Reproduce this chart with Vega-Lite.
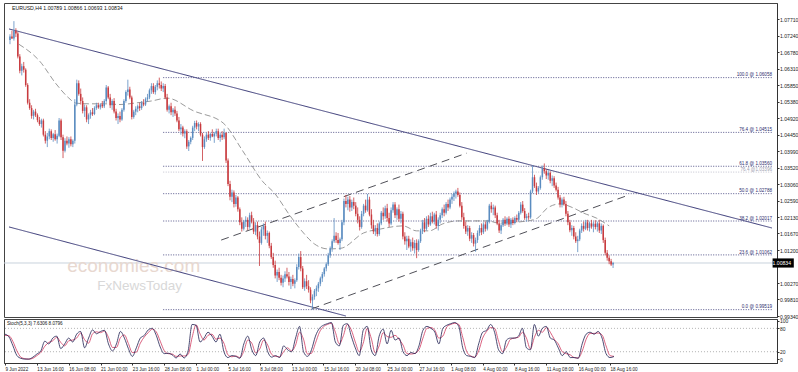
{
"$schema":"https://vega.github.io/schema/vega-lite/v6.json",
"background":"white",
"padding":{"left":2,"top":2,"right":0,"bottom":0},
"spacing":2,
"bounds":"flush",
"config":{"view":{"stroke":"#444","strokeWidth":1},"font":"Liberation Sans"},
"resolve":{"scale":{"x":"independent","y":"independent"}},
"datasets":{
"bars":[
{"i":0,"o":1.0712,"h":1.0728,"l":1.0700,"c":1.0722},
{"i":1,"o":1.0722,"h":1.0738,"l":1.0715,"c":1.0716},
{"i":2,"o":1.0716,"h":1.0765,"l":1.0710,"c":1.0738},
{"i":3,"o":1.0738,"h":1.0745,"l":1.0720,"c":1.0730},
{"i":4,"o":1.0730,"h":1.0735,"l":1.0660,"c":1.0665},
{"i":5,"o":1.0665,"h":1.0672,"l":1.0618,"c":1.0625},
{"i":6,"o":1.0625,"h":1.0645,"l":1.0612,"c":1.0638},
{"i":7,"o":1.0638,"h":1.0650,"l":1.0620,"c":1.0628},
{"i":8,"o":1.0628,"h":1.0632,"l":1.0580,"c":1.0585},
{"i":9,"o":1.0585,"h":1.0590,"l":1.0530,"c":1.0535},
{"i":10,"o":1.0535,"h":1.0545,"l":1.0515,"c":1.0520},
{"i":11,"o":1.0520,"h":1.0528,"l":1.0490,"c":1.0498},
{"i":12,"o":1.0498,"h":1.0515,"l":1.0488,"c":1.0510},
{"i":13,"o":1.0510,"h":1.0518,"l":1.0495,"c":1.0500},
{"i":14,"o":1.0500,"h":1.0505,"l":1.0480,"c":1.0486},
{"i":15,"o":1.0486,"h":1.0495,"l":1.0470,"c":1.0475},
{"i":16,"o":1.0475,"h":1.0490,"l":1.0465,"c":1.0485},
{"i":17,"o":1.0485,"h":1.0490,"l":1.0440,"c":1.0445},
{"i":18,"o":1.0445,"h":1.0455,"l":1.0420,"c":1.0428},
{"i":19,"o":1.0428,"h":1.0450,"l":1.0410,"c":1.0440},
{"i":20,"o":1.0440,"h":1.0462,"l":1.0432,"c":1.0455},
{"i":21,"o":1.0455,"h":1.0460,"l":1.0430,"c":1.0436},
{"i":22,"o":1.0436,"h":1.0450,"l":1.0425,"c":1.0446},
{"i":23,"o":1.0446,"h":1.0458,"l":1.0428,"c":1.0432},
{"i":24,"o":1.0432,"h":1.0448,"l":1.0420,"c":1.0442},
{"i":25,"o":1.0442,"h":1.0492,"l":1.0438,"c":1.0485},
{"i":26,"o":1.0485,"h":1.0490,"l":1.0430,"c":1.0438},
{"i":27,"o":1.0438,"h":1.0445,"l":1.0379,"c":1.0400},
{"i":28,"o":1.0400,"h":1.0435,"l":1.0395,"c":1.0428},
{"i":29,"o":1.0428,"h":1.0440,"l":1.0415,"c":1.0420},
{"i":30,"o":1.0420,"h":1.0438,"l":1.0408,"c":1.0432},
{"i":31,"o":1.0432,"h":1.0440,"l":1.0412,"c":1.0418},
{"i":32,"o":1.0418,"h":1.0432,"l":1.0410,"c":1.0428},
{"i":33,"o":1.0428,"h":1.0545,"l":1.0420,"c":1.0530},
{"i":34,"o":1.0530,"h":1.0600,"l":1.0525,"c":1.0590},
{"i":35,"o":1.0590,"h":1.0598,"l":1.0555,"c":1.0560},
{"i":36,"o":1.0560,"h":1.0575,"l":1.0530,"c":1.0540},
{"i":37,"o":1.0540,"h":1.0550,"l":1.0505,"c":1.0512},
{"i":38,"o":1.0512,"h":1.0530,"l":1.0495,"c":1.0522},
{"i":39,"o":1.0522,"h":1.0528,"l":1.0480,"c":1.0488},
{"i":40,"o":1.0488,"h":1.0505,"l":1.0475,"c":1.0500},
{"i":41,"o":1.0500,"h":1.0515,"l":1.0490,"c":1.0508},
{"i":42,"o":1.0508,"h":1.0520,"l":1.0498,"c":1.0503},
{"i":43,"o":1.0503,"h":1.0525,"l":1.0500,"c":1.0520},
{"i":44,"o":1.0520,"h":1.0535,"l":1.0515,"c":1.0528},
{"i":45,"o":1.0528,"h":1.0535,"l":1.0518,"c":1.0522},
{"i":46,"o":1.0522,"h":1.0534,"l":1.0516,"c":1.0530},
{"i":47,"o":1.0530,"h":1.0540,"l":1.0520,"c":1.0525},
{"i":48,"o":1.0525,"h":1.0545,"l":1.0520,"c":1.0540},
{"i":49,"o":1.0540,"h":1.0585,"l":1.0535,"c":1.0578},
{"i":50,"o":1.0578,"h":1.0582,"l":1.0545,"c":1.0550},
{"i":51,"o":1.0550,"h":1.0560,"l":1.0520,"c":1.0528},
{"i":52,"o":1.0528,"h":1.0545,"l":1.0515,"c":1.0540},
{"i":53,"o":1.0540,"h":1.0548,"l":1.0505,"c":1.0510},
{"i":54,"o":1.0510,"h":1.0518,"l":1.0485,"c":1.0492},
{"i":55,"o":1.0492,"h":1.0505,"l":1.0475,"c":1.0498},
{"i":56,"o":1.0498,"h":1.0510,"l":1.0480,"c":1.0488},
{"i":57,"o":1.0488,"h":1.0520,"l":1.0484,"c":1.0515},
{"i":58,"o":1.0515,"h":1.0545,"l":1.0510,"c":1.0540},
{"i":59,"o":1.0540,"h":1.0570,"l":1.0535,"c":1.0565},
{"i":60,"o":1.0565,"h":1.0600,"l":1.0555,"c":1.0572},
{"i":61,"o":1.0572,"h":1.0580,"l":1.0545,"c":1.0550},
{"i":62,"o":1.0550,"h":1.0555,"l":1.0488,"c":1.0495},
{"i":63,"o":1.0495,"h":1.0515,"l":1.0490,"c":1.0510},
{"i":64,"o":1.0510,"h":1.0525,"l":1.0500,"c":1.0518},
{"i":65,"o":1.0518,"h":1.0530,"l":1.0508,"c":1.0525},
{"i":66,"o":1.0525,"h":1.0535,"l":1.0512,"c":1.0520},
{"i":67,"o":1.0520,"h":1.0540,"l":1.0515,"c":1.0535},
{"i":68,"o":1.0535,"h":1.0545,"l":1.0525,"c":1.0530},
{"i":69,"o":1.0530,"h":1.0550,"l":1.0526,"c":1.0545},
{"i":70,"o":1.0545,"h":1.0560,"l":1.0538,"c":1.0550},
{"i":71,"o":1.0550,"h":1.0575,"l":1.0545,"c":1.0570},
{"i":72,"o":1.0570,"h":1.0590,"l":1.0560,"c":1.0582},
{"i":73,"o":1.0582,"h":1.0590,"l":1.0560,"c":1.0565},
{"i":74,"o":1.0565,"h":1.0585,"l":1.0558,"c":1.0580},
{"i":75,"o":1.0580,"h":1.0598,"l":1.0570,"c":1.0590},
{"i":76,"o":1.0590,"h":1.06058,"l":1.0575,"c":1.0585},
{"i":77,"o":1.0585,"h":1.0595,"l":1.0568,"c":1.0575},
{"i":78,"o":1.0575,"h":1.0590,"l":1.0565,"c":1.0582},
{"i":79,"o":1.0582,"h":1.0588,"l":1.0545,"c":1.0550},
{"i":80,"o":1.0550,"h":1.0560,"l":1.0510,"c":1.0515},
{"i":81,"o":1.0515,"h":1.0530,"l":1.0505,"c":1.0525},
{"i":82,"o":1.0525,"h":1.0535,"l":1.0500,"c":1.0508},
{"i":83,"o":1.0508,"h":1.0520,"l":1.0495,"c":1.0515},
{"i":84,"o":1.0515,"h":1.0525,"l":1.0498,"c":1.0505},
{"i":85,"o":1.0505,"h":1.0512,"l":1.0480,"c":1.0485},
{"i":86,"o":1.0485,"h":1.0495,"l":1.0455,"c":1.0460},
{"i":87,"o":1.0460,"h":1.0475,"l":1.0445,"c":1.0465},
{"i":88,"o":1.0465,"h":1.0470,"l":1.0440,"c":1.0448},
{"i":89,"o":1.0448,"h":1.0460,"l":1.0435,"c":1.0455},
{"i":90,"o":1.0455,"h":1.0460,"l":1.0405,"c":1.0412},
{"i":91,"o":1.0412,"h":1.0430,"l":1.0399,"c":1.0425},
{"i":92,"o":1.0425,"h":1.0440,"l":1.0418,"c":1.0436},
{"i":93,"o":1.0436,"h":1.0470,"l":1.0430,"c":1.0465},
{"i":94,"o":1.0465,"h":1.0484,"l":1.0455,"c":1.0478},
{"i":95,"o":1.0478,"h":1.0485,"l":1.0460,"c":1.0468},
{"i":96,"o":1.0468,"h":1.0480,"l":1.0455,"c":1.0475},
{"i":97,"o":1.0475,"h":1.0480,"l":1.0440,"c":1.0445},
{"i":98,"o":1.0445,"h":1.0450,"l":1.0371,"c":1.0410},
{"i":99,"o":1.0410,"h":1.0440,"l":1.0405,"c":1.0432},
{"i":100,"o":1.0432,"h":1.0450,"l":1.0425,"c":1.0445},
{"i":101,"o":1.0445,"h":1.0455,"l":1.0430,"c":1.0436},
{"i":102,"o":1.0436,"h":1.0450,"l":1.0428,"c":1.0447},
{"i":103,"o":1.0447,"h":1.0460,"l":1.0438,"c":1.0440},
{"i":104,"o":1.0440,"h":1.0452,"l":1.0422,"c":1.0448},
{"i":105,"o":1.0448,"h":1.0462,"l":1.0440,"c":1.0455},
{"i":106,"o":1.0455,"h":1.0462,"l":1.0430,"c":1.0436},
{"i":107,"o":1.0436,"h":1.0450,"l":1.0425,"c":1.0445},
{"i":108,"o":1.0445,"h":1.0455,"l":1.0430,"c":1.0438},
{"i":109,"o":1.0438,"h":1.0462,"l":1.0432,"c":1.0450},
{"i":110,"o":1.0450,"h":1.0452,"l":1.0365,"c":1.0372},
{"i":111,"o":1.0372,"h":1.0378,"l":1.0300,"c":1.0306},
{"i":112,"o":1.0306,"h":1.0315,"l":1.0260,"c":1.0270},
{"i":113,"o":1.0270,"h":1.0290,"l":1.0255,"c":1.0282},
{"i":114,"o":1.0282,"h":1.0288,"l":1.0240,"c":1.0250},
{"i":115,"o":1.0250,"h":1.0275,"l":1.0242,"c":1.0268},
{"i":116,"o":1.0268,"h":1.0272,"l":1.0228,"c":1.0235},
{"i":117,"o":1.0235,"h":1.0240,"l":1.0190,"c":1.0198},
{"i":118,"o":1.0198,"h":1.0212,"l":1.0172,"c":1.0180},
{"i":119,"o":1.0180,"h":1.0205,"l":1.0175,"c":1.0200},
{"i":120,"o":1.0200,"h":1.0215,"l":1.0185,"c":1.0205},
{"i":121,"o":1.0205,"h":1.0212,"l":1.0176,"c":1.0185},
{"i":122,"o":1.0185,"h":1.0225,"l":1.0180,"c":1.0218},
{"i":123,"o":1.0218,"h":1.0228,"l":1.0195,"c":1.0200},
{"i":124,"o":1.0200,"h":1.0210,"l":1.0165,"c":1.0172},
{"i":125,"o":1.0172,"h":1.0198,"l":1.0162,"c":1.0190},
{"i":126,"o":1.0190,"h":1.0200,"l":1.0150,"c":1.0158},
{"i":127,"o":1.0158,"h":1.0172,"l":1.0075,"c":1.0140},
{"i":128,"o":1.0140,"h":1.0185,"l":1.0135,"c":1.0178},
{"i":129,"o":1.0178,"h":1.0195,"l":1.0160,"c":1.0188},
{"i":130,"o":1.0188,"h":1.0200,"l":1.0150,"c":1.0160},
{"i":131,"o":1.0160,"h":1.0175,"l":1.0140,"c":1.0168},
{"i":132,"o":1.0168,"h":1.0172,"l":1.0125,"c":1.0132},
{"i":133,"o":1.0132,"h":1.0140,"l":1.0095,"c":1.0100},
{"i":134,"o":1.0100,"h":1.0112,"l":1.0070,"c":1.0078},
{"i":135,"o":1.0078,"h":1.0090,"l":1.0040,"c":1.0048},
{"i":136,"o":1.0048,"h":1.0065,"l":1.0030,"c":1.0058},
{"i":137,"o":1.0058,"h":1.0070,"l":1.0035,"c":1.0042},
{"i":138,"o":1.0042,"h":1.0050,"l":1.0020,"c":1.0028},
{"i":139,"o":1.0028,"h":1.0048,"l":1.0015,"c":1.0040},
{"i":140,"o":1.0040,"h":1.0060,"l":1.0030,"c":1.0052},
{"i":141,"o":1.0052,"h":1.0070,"l":1.0040,"c":1.0045},
{"i":142,"o":1.0045,"h":1.0058,"l":1.0020,"c":1.0030},
{"i":143,"o":1.0030,"h":1.0045,"l":1.0010,"c":1.0038},
{"i":144,"o":1.0038,"h":1.0050,"l":1.0018,"c":1.0025},
{"i":145,"o":1.0025,"h":1.0040,"l":1.0012,"c":1.0035},
{"i":146,"o":1.0035,"h":1.0080,"l":1.0030,"c":1.0072},
{"i":147,"o":1.0072,"h":1.0110,"l":1.0065,"c":1.0100},
{"i":148,"o":1.0100,"h":1.0117,"l":1.0060,"c":1.0068},
{"i":149,"o":1.0068,"h":1.0075,"l":1.0010,"c":1.0015},
{"i":150,"o":1.0015,"h":1.0040,"l":1.0005,"c":1.0032},
{"i":151,"o":1.0032,"h":1.0050,"l":1.0010,"c":1.0018},
{"i":152,"o":1.0018,"h":1.0035,"l":1.0000,"c":1.0008},
{"i":153,"o":1.0008,"h":1.0015,"l":0.9970,"c":0.9978},
{"i":154,"o":0.9978,"h":0.9995,"l":0.99519,"c":0.9988},
{"i":155,"o":0.9988,"h":1.0010,"l":0.9980,"c":1.0005},
{"i":156,"o":1.0005,"h":1.0020,"l":0.9990,"c":1.0012},
{"i":157,"o":1.0012,"h":1.0030,"l":1.0002,"c":1.0025},
{"i":158,"o":1.0025,"h":1.0045,"l":1.0018,"c":1.0040},
{"i":159,"o":1.0040,"h":1.0058,"l":1.0030,"c":1.0052},
{"i":160,"o":1.0052,"h":1.0072,"l":1.0045,"c":1.0068},
{"i":161,"o":1.0068,"h":1.0085,"l":1.0060,"c":1.0080},
{"i":162,"o":1.0080,"h":1.0112,"l":1.0075,"c":1.0105},
{"i":163,"o":1.0105,"h":1.0130,"l":1.0098,"c":1.0125},
{"i":164,"o":1.0125,"h":1.0150,"l":1.0115,"c":1.0145},
{"i":165,"o":1.0145,"h":1.0210,"l":1.0140,"c":1.0160},
{"i":166,"o":1.0160,"h":1.0170,"l":1.0140,"c":1.0148},
{"i":167,"o":1.0148,"h":1.0168,"l":1.0135,"c":1.0140},
{"i":168,"o":1.0140,"h":1.0155,"l":1.0120,"c":1.0150},
{"i":169,"o":1.0150,"h":1.0205,"l":1.0145,"c":1.0198},
{"i":170,"o":1.0198,"h":1.0265,"l":1.0190,"c":1.0258},
{"i":171,"o":1.0258,"h":1.0275,"l":1.0240,"c":1.0250},
{"i":172,"o":1.0250,"h":1.0270,"l":1.0232,"c":1.0262},
{"i":173,"o":1.0262,"h":1.0272,"l":1.0228,"c":1.0240},
{"i":174,"o":1.0240,"h":1.0262,"l":1.0230,"c":1.0255},
{"i":175,"o":1.0255,"h":1.0268,"l":1.0235,"c":1.0245},
{"i":176,"o":1.0245,"h":1.0255,"l":1.0215,"c":1.0222},
{"i":177,"o":1.0222,"h":1.0240,"l":1.0195,"c":1.0205},
{"i":178,"o":1.0205,"h":1.0215,"l":1.0175,"c":1.0185},
{"i":179,"o":1.0185,"h":1.0230,"l":1.0180,"c":1.0222},
{"i":180,"o":1.0222,"h":1.0250,"l":1.0215,"c":1.0245},
{"i":181,"o":1.0245,"h":1.0262,"l":1.0225,"c":1.0232},
{"i":182,"o":1.0232,"h":1.0278,"l":1.0228,"c":1.0262},
{"i":183,"o":1.0262,"h":1.0270,"l":1.0215,"c":1.0220},
{"i":184,"o":1.0220,"h":1.0235,"l":1.0180,"c":1.0190},
{"i":185,"o":1.0190,"h":1.0205,"l":1.0165,"c":1.0172},
{"i":186,"o":1.0172,"h":1.0190,"l":1.0160,"c":1.0182},
{"i":187,"o":1.0182,"h":1.0195,"l":1.0158,"c":1.0165},
{"i":188,"o":1.0165,"h":1.0200,"l":1.0160,"c":1.0195},
{"i":189,"o":1.0195,"h":1.0230,"l":1.0190,"c":1.0225},
{"i":190,"o":1.0225,"h":1.0240,"l":1.0205,"c":1.0215},
{"i":191,"o":1.0215,"h":1.0245,"l":1.0208,"c":1.0238},
{"i":192,"o":1.0238,"h":1.0250,"l":1.0200,"c":1.0210},
{"i":193,"o":1.0210,"h":1.0225,"l":1.0185,"c":1.0195},
{"i":194,"o":1.0195,"h":1.0240,"l":1.0190,"c":1.0232},
{"i":195,"o":1.0232,"h":1.0255,"l":1.0225,"c":1.0248},
{"i":196,"o":1.0248,"h":1.0255,"l":1.0210,"c":1.0218},
{"i":197,"o":1.0218,"h":1.0240,"l":1.0205,"c":1.0235},
{"i":198,"o":1.0235,"h":1.0248,"l":1.0200,"c":1.0208},
{"i":199,"o":1.0208,"h":1.0230,"l":1.0195,"c":1.0222},
{"i":200,"o":1.0222,"h":1.0228,"l":1.0150,"c":1.0158},
{"i":201,"o":1.0158,"h":1.0170,"l":1.0135,"c":1.0145},
{"i":202,"o":1.0145,"h":1.0160,"l":1.0120,"c":1.0152},
{"i":203,"o":1.0152,"h":1.0160,"l":1.0125,"c":1.0130},
{"i":204,"o":1.0130,"h":1.0150,"l":1.0115,"c":1.0142},
{"i":205,"o":1.0142,"h":1.0155,"l":1.0118,"c":1.0125},
{"i":206,"o":1.0125,"h":1.0148,"l":1.0110,"c":1.0140},
{"i":207,"o":1.0140,"h":1.0150,"l":1.0097,"c":1.0120},
{"i":208,"o":1.0120,"h":1.0150,"l":1.0115,"c":1.0145},
{"i":209,"o":1.0145,"h":1.0180,"l":1.0140,"c":1.0175},
{"i":210,"o":1.0175,"h":1.0205,"l":1.0165,"c":1.0198},
{"i":211,"o":1.0198,"h":1.0210,"l":1.0170,"c":1.0180},
{"i":212,"o":1.0180,"h":1.0215,"l":1.0175,"c":1.0208},
{"i":213,"o":1.0208,"h":1.0218,"l":1.0185,"c":1.0192},
{"i":214,"o":1.0192,"h":1.0225,"l":1.0188,"c":1.0215},
{"i":215,"o":1.0215,"h":1.0228,"l":1.0195,"c":1.0200},
{"i":216,"o":1.0200,"h":1.0225,"l":1.0192,"c":1.0220},
{"i":217,"o":1.0220,"h":1.0230,"l":1.0180,"c":1.0188},
{"i":218,"o":1.0188,"h":1.0212,"l":1.0175,"c":1.0205},
{"i":219,"o":1.0205,"h":1.0225,"l":1.0195,"c":1.0218},
{"i":220,"o":1.0218,"h":1.0240,"l":1.0210,"c":1.0235},
{"i":221,"o":1.0235,"h":1.0248,"l":1.0215,"c":1.0225},
{"i":222,"o":1.0225,"h":1.0255,"l":1.0220,"c":1.0250},
{"i":223,"o":1.0250,"h":1.0262,"l":1.0230,"c":1.0240},
{"i":224,"o":1.0240,"h":1.0268,"l":1.0235,"c":1.0262},
{"i":225,"o":1.0262,"h":1.0278,"l":1.0250,"c":1.0270},
{"i":226,"o":1.0270,"h":1.0285,"l":1.0258,"c":1.0280},
{"i":227,"o":1.0280,"h":1.0290,"l":1.0265,"c":1.0285},
{"i":228,"o":1.0285,"h":1.0295,"l":1.0270,"c":1.0275},
{"i":229,"o":1.0275,"h":1.0282,"l":1.0240,"c":1.0245},
{"i":230,"o":1.0245,"h":1.0255,"l":1.0205,"c":1.0212},
{"i":231,"o":1.0212,"h":1.0225,"l":1.0180,"c":1.0188},
{"i":232,"o":1.0188,"h":1.0200,"l":1.0165,"c":1.0172},
{"i":233,"o":1.0172,"h":1.0190,"l":1.0160,"c":1.0182},
{"i":234,"o":1.0182,"h":1.0188,"l":1.0145,"c":1.0152},
{"i":235,"o":1.0152,"h":1.0170,"l":1.0140,"c":1.0162},
{"i":236,"o":1.0162,"h":1.0168,"l":1.0130,"c":1.0138},
{"i":237,"o":1.0138,"h":1.0155,"l":1.0115,"c":1.0148},
{"i":238,"o":1.0148,"h":1.0175,"l":1.0140,"c":1.0168},
{"i":239,"o":1.0168,"h":1.0190,"l":1.0160,"c":1.0182},
{"i":240,"o":1.0182,"h":1.0195,"l":1.0162,"c":1.0170},
{"i":241,"o":1.0170,"h":1.0198,"l":1.0165,"c":1.0192},
{"i":242,"o":1.0192,"h":1.0200,"l":1.0172,"c":1.0180},
{"i":243,"o":1.0180,"h":1.0205,"l":1.0175,"c":1.0200},
{"i":244,"o":1.0200,"h":1.0250,"l":1.0195,"c":1.0245},
{"i":245,"o":1.0245,"h":1.0255,"l":1.0225,"c":1.0235},
{"i":246,"o":1.0235,"h":1.0248,"l":1.0218,"c":1.0240},
{"i":247,"o":1.0240,"h":1.0245,"l":1.0210,"c":1.0218},
{"i":248,"o":1.0218,"h":1.0225,"l":1.0190,"c":1.0195},
{"i":249,"o":1.0195,"h":1.0205,"l":1.0168,"c":1.0175},
{"i":250,"o":1.0175,"h":1.0195,"l":1.0165,"c":1.0190},
{"i":251,"o":1.0190,"h":1.0210,"l":1.0185,"c":1.0205},
{"i":252,"o":1.0205,"h":1.0215,"l":1.0188,"c":1.0195},
{"i":253,"o":1.0195,"h":1.0212,"l":1.0190,"c":1.0208},
{"i":254,"o":1.0208,"h":1.0215,"l":1.0185,"c":1.0192},
{"i":255,"o":1.0192,"h":1.0210,"l":1.0182,"c":1.0205},
{"i":256,"o":1.0205,"h":1.0212,"l":1.0190,"c":1.0196},
{"i":257,"o":1.0196,"h":1.0215,"l":1.0192,"c":1.0210},
{"i":258,"o":1.0210,"h":1.0220,"l":1.0198,"c":1.0205},
{"i":259,"o":1.0205,"h":1.0230,"l":1.0200,"c":1.0225},
{"i":260,"o":1.0225,"h":1.0255,"l":1.0220,"c":1.0248},
{"i":261,"o":1.0248,"h":1.0258,"l":1.0225,"c":1.0230},
{"i":262,"o":1.0230,"h":1.0238,"l":1.0205,"c":1.0210},
{"i":263,"o":1.0210,"h":1.0222,"l":1.0200,"c":1.0215},
{"i":264,"o":1.0215,"h":1.0225,"l":1.0205,"c":1.0212},
{"i":265,"o":1.0212,"h":1.0290,"l":1.0208,"c":1.0285},
{"i":266,"o":1.0285,"h":1.0358,"l":1.0280,"c":1.0325},
{"i":267,"o":1.0325,"h":1.0332,"l":1.0295,"c":1.0300},
{"i":268,"o":1.0300,"h":1.0310,"l":1.0275,"c":1.0285},
{"i":269,"o":1.0285,"h":1.0300,"l":1.0278,"c":1.0295},
{"i":270,"o":1.0295,"h":1.0330,"l":1.0290,"c":1.0325},
{"i":271,"o":1.0325,"h":1.0358,"l":1.0318,"c":1.0350},
{"i":272,"o":1.0350,"h":1.0364,"l":1.0335,"c":1.0342},
{"i":273,"o":1.0342,"h":1.0348,"l":1.0320,"c":1.0330},
{"i":274,"o":1.0330,"h":1.0345,"l":1.0318,"c":1.0338},
{"i":275,"o":1.0338,"h":1.0342,"l":1.0308,"c":1.0315},
{"i":276,"o":1.0315,"h":1.0330,"l":1.0300,"c":1.0322},
{"i":277,"o":1.0322,"h":1.0328,"l":1.0295,"c":1.0302},
{"i":278,"o":1.0302,"h":1.0310,"l":1.0285,"c":1.0290},
{"i":279,"o":1.0290,"h":1.0298,"l":1.0262,"c":1.0268},
{"i":280,"o":1.0268,"h":1.0275,"l":1.0240,"c":1.0248},
{"i":281,"o":1.0248,"h":1.0268,"l":1.0240,"c":1.0262},
{"i":282,"o":1.0262,"h":1.0270,"l":1.0245,"c":1.0250},
{"i":283,"o":1.0250,"h":1.0258,"l":1.0215,"c":1.0222},
{"i":284,"o":1.0222,"h":1.0230,"l":1.0190,"c":1.0198},
{"i":285,"o":1.0198,"h":1.0205,"l":1.0170,"c":1.0176},
{"i":286,"o":1.0176,"h":1.0190,"l":1.0160,"c":1.0182},
{"i":287,"o":1.0182,"h":1.0188,"l":1.0150,"c":1.0158},
{"i":288,"o":1.0158,"h":1.0170,"l":1.0140,"c":1.0145},
{"i":289,"o":1.0145,"h":1.0160,"l":1.0114,"c":1.0150},
{"i":290,"o":1.0150,"h":1.0180,"l":1.0145,"c":1.0175},
{"i":291,"o":1.0175,"h":1.0195,"l":1.0168,"c":1.0188},
{"i":292,"o":1.0188,"h":1.0200,"l":1.0172,"c":1.0180},
{"i":293,"o":1.0180,"h":1.0205,"l":1.0176,"c":1.0198},
{"i":294,"o":1.0198,"h":1.0205,"l":1.0175,"c":1.0182},
{"i":295,"o":1.0182,"h":1.0200,"l":1.0172,"c":1.0195},
{"i":296,"o":1.0195,"h":1.0205,"l":1.0180,"c":1.0186},
{"i":297,"o":1.0186,"h":1.0200,"l":1.0170,"c":1.0194},
{"i":298,"o":1.0194,"h":1.0204,"l":1.0178,"c":1.0185},
{"i":299,"o":1.0185,"h":1.0200,"l":1.0172,"c":1.0195},
{"i":300,"o":1.0195,"h":1.0205,"l":1.0168,"c":1.0175},
{"i":301,"o":1.0175,"h":1.0195,"l":1.0165,"c":1.0188},
{"i":302,"o":1.0188,"h":1.0192,"l":1.0140,"c":1.0148},
{"i":303,"o":1.0148,"h":1.0155,"l":1.0105,"c":1.0112},
{"i":304,"o":1.0112,"h":1.0120,"l":1.0090,"c":1.0098},
{"i":305,"o":1.0098,"h":1.0105,"l":1.0080,"c":1.0088},
{"i":306,"o":1.0088,"h":1.0095,"l":1.0075,"c":1.00789},
{"i":307,"o":1.00789,"h":1.00866,"l":1.00693,"c":1.00834}
],
"ma":[
{"i":4.5,"p":1.0700},{"i":15,"p":1.0653},{"i":23.5,"p":1.0588},{"i":30,"p":1.0548},{"i":33.5,"p":1.0534},{"i":40,"p":1.0532},{"i":48.5,"p":1.0532},{"i":56,"p":1.0530},{"i":63.5,"p":1.0534},{"i":72,"p":1.0540},{"i":80,"p":1.0548},{"i":93.5,"p":1.0512},{"i":108.5,"p":1.0478},{"i":118.5,"p":1.0399},{"i":128.5,"p":1.0314},{"i":135,"p":1.0278},{"i":142,"p":1.0221},{"i":148.5,"p":1.0174},{"i":155,"p":1.0137},{"i":162,"p":1.0123},{"i":168.5,"p":1.0125},{"i":180,"p":1.0168},{"i":188.5,"p":1.0179},{"i":200,"p":1.0188},{"i":207,"p":1.0174},{"i":213.5,"p":1.0174},{"i":220,"p":1.0193},{"i":228.5,"p":1.0202},{"i":243.5,"p":1.0202},{"i":248.5,"p":1.0196},{"i":263.5,"p":1.0202},{"i":268.5,"p":1.0210},{"i":273.5,"p":1.0238},{"i":280,"p":1.0250},{"i":287,"p":1.0238},{"i":292,"p":1.0224},{"i":298.5,"p":1.0210},{"i":305,"p":1.0188}
],
"tl":[
{"i0":-0.5,"p0":1.0743,"i1":387.9,"p1":1.0182,"k":"solid"},
{"i0":-0.5,"p0":1.0185,"i1":171,"p1":0.9934,"k":"solid"},
{"i0":107.5,"p0":1.0148,"i1":232.5,"p1":1.0393,"k":"dash"},
{"i0":153.5,"p0":0.9954,"i1":313.5,"p1":1.0272,"k":"dash"}
],
"fib":[
{"i0":78,"i1":387.9,"p":1.06058,"t":"100.0 @ 1.06058","k":"a"},
{"i0":78,"i1":387.9,"p":1.04515,"t":"76.4 @ 1.04515","k":"a"},
{"i0":78,"i1":387.9,"p":1.03560,"t":"61.8 @ 1.03560","k":"a"},
{"i0":78,"i1":387.9,"p":1.03396,"t":"76.4 @1.03396","k":"b"},
{"i0":78,"i1":387.9,"p":1.02788,"t":"50.0 @ 1.02788","k":"a"},
{"i0":78,"i1":387.9,"p":1.02017,"t":"38.2 @ 1.02017","k":"a"},
{"i0":78,"i1":387.9,"p":1.01062,"t":"23.6 @ 1.01062","k":"a"},
{"i0":78,"i1":387.9,"p":0.99519,"t":"0.0 @ 0.99519","k":"a"}
],
"stoch":[
{"i":0,"k":65,"d":62},{"i":2,"k":58,"d":61},{"i":4,"k":35,"d":46},{"i":6,"k":10,"d":22},{"i":8,"k":3,"d":6},{"i":10,"k":1,"d":2},{"i":12,"k":1,"d":1},{"i":14,"k":6,"d":3},{"i":16,"k":14,"d":10},{"i":18,"k":22,"d":18},
{"i":20,"k":47,"d":34},{"i":22,"k":40,"d":44},{"i":24,"k":55,"d":48},{"i":26,"k":60,"d":57},{"i":28,"k":28,"d":44},{"i":30,"k":40,"d":35},{"i":32,"k":55,"d":48},{"i":34,"k":45,"d":50},{"i":36,"k":65,"d":55},{"i":38,"k":72,"d":68},
{"i":40,"k":30,"d":51},{"i":42,"k":55,"d":42},{"i":44,"k":76,"d":66},{"i":46,"k":66,"d":71},{"i":48,"k":72,"d":69},{"i":50,"k":75,"d":73},{"i":52,"k":40,"d":57},{"i":54,"k":22,"d":31},{"i":56,"k":40,"d":31},{"i":58,"k":72,"d":56},
{"i":60,"k":55,"d":63},{"i":62,"k":28,"d":41},{"i":64,"k":8,"d":18},{"i":66,"k":30,"d":19},{"i":68,"k":55,"d":42},{"i":70,"k":62,"d":58},{"i":72,"k":76,"d":69},{"i":74,"k":80,"d":78},{"i":76,"k":62,"d":71},{"i":78,"k":32,"d":47},
{"i":80,"k":15,"d":23},{"i":82,"k":16,"d":15},{"i":84,"k":12,"d":14},{"i":86,"k":4,"d":8},{"i":88,"k":14,"d":9},{"i":90,"k":4,"d":9},{"i":92,"k":22,"d":13},{"i":94,"k":90,"d":56},{"i":96,"k":88,"d":89},{"i":98,"k":45,"d":66},
{"i":100,"k":55,"d":50},{"i":102,"k":70,"d":62},{"i":104,"k":60,"d":65},{"i":106,"k":45,"d":52},{"i":108,"k":65,"d":55},{"i":110,"k":20,"d":42},{"i":112,"k":5,"d":12},{"i":114,"k":10,"d":7},{"i":116,"k":8,"d":9},{"i":118,"k":3,"d":5},
{"i":120,"k":40,"d":21},{"i":122,"k":60,"d":50},{"i":124,"k":25,"d":42},{"i":126,"k":10,"d":17},{"i":128,"k":45,"d":27},{"i":130,"k":55,"d":50},{"i":132,"k":20,"d":37},{"i":134,"k":6,"d":13},{"i":136,"k":10,"d":8},{"i":138,"k":5,"d":7},
{"i":140,"k":35,"d":20},{"i":142,"k":25,"d":30},{"i":144,"k":20,"d":22},{"i":146,"k":55,"d":37},{"i":148,"k":85,"d":70},{"i":150,"k":20,"d":52},{"i":152,"k":8,"d":14},{"i":154,"k":25,"d":16},{"i":156,"k":60,"d":42},{"i":158,"k":80,"d":70},
{"i":160,"k":88,"d":84},{"i":162,"k":92,"d":90},{"i":164,"k":95,"d":93},{"i":166,"k":45,"d":70},{"i":168,"k":35,"d":40},{"i":170,"k":88,"d":61},{"i":172,"k":92,"d":90},{"i":174,"k":60,"d":76},{"i":176,"k":30,"d":45},{"i":178,"k":10,"d":20},
{"i":180,"k":75,"d":42},{"i":182,"k":85,"d":80},{"i":184,"k":25,"d":55},{"i":186,"k":10,"d":17},{"i":188,"k":60,"d":35},{"i":190,"k":78,"d":69},{"i":192,"k":40,"d":59},{"i":194,"k":75,"d":57},{"i":196,"k":50,"d":62},{"i":198,"k":55,"d":52},
{"i":200,"k":20,"d":37},{"i":202,"k":10,"d":15},{"i":204,"k":18,"d":14},{"i":206,"k":15,"d":16},{"i":208,"k":35,"d":25},{"i":210,"k":75,"d":55},{"i":212,"k":85,"d":80},{"i":214,"k":80,"d":82},{"i":216,"k":70,"d":75},{"i":218,"k":40,"d":55},
{"i":220,"k":80,"d":60},{"i":222,"k":88,"d":84},{"i":224,"k":92,"d":90},{"i":226,"k":95,"d":93},{"i":228,"k":85,"d":90},{"i":230,"k":30,"d":57},{"i":232,"k":10,"d":20},{"i":234,"k":8,"d":9},{"i":236,"k":5,"d":6},{"i":238,"k":40,"d":22},
{"i":240,"k":70,"d":55},{"i":242,"k":75,"d":72},{"i":244,"k":90,"d":82},{"i":246,"k":70,"d":80},{"i":248,"k":25,"d":47},{"i":250,"k":15,"d":20},{"i":252,"k":50,"d":32},{"i":254,"k":55,"d":52},{"i":256,"k":55,"d":55},{"i":258,"k":60,"d":57},
{"i":260,"k":80,"d":70},{"i":262,"k":30,"d":55},{"i":264,"k":25,"d":27},{"i":266,"k":90,"d":57},{"i":268,"k":60,"d":75},{"i":270,"k":80,"d":70},{"i":272,"k":85,"d":82},{"i":274,"k":55,"d":70},{"i":276,"k":50,"d":52},{"i":278,"k":30,"d":40},
{"i":280,"k":10,"d":20},{"i":282,"k":20,"d":15},{"i":284,"k":5,"d":12},{"i":286,"k":5,"d":5},{"i":288,"k":3,"d":4},{"i":290,"k":40,"d":21},{"i":292,"k":65,"d":52},{"i":294,"k":70,"d":67},{"i":296,"k":65,"d":67},{"i":298,"k":72,"d":68},
{"i":300,"k":55,"d":63},{"i":302,"k":15,"d":35},{"i":304,"k":5,"d":10},{"i":306,"k":7.63,"d":8.08}
],
"texts":[
{"i":1,"p":1.0802,"t":"EURUSD,H4  1.00789 1.00866 1.00693 1.00834"}
],
"wm":[
{"i":63,"p":1.0057,"t":"economies.com","s":"big"},
{"i":66,"p":1.0008,"t":"FxNewsToday","s":"small"}
],
"bidbox":[
{"i0":388.2,"i1":399,"p0":1.00705,"p1":1.00963,"pm":1.00834,"t":"1.00834"}
],
"levels":[{"v":80},{"v":20}],
"stxt":[{"i":1,"v":91,"t":"Stoch(5,3,3) 7.6306 8.0796"}]
},
"vconcat":[
{
"width":773,"height":314,
"resolve":{"scale":{"color":"independent","size":"independent","strokeDash":"independent"}},
"layer":[
{"data":{"name":"fib"},"mark":{"type":"rule","strokeDash":[1,1.5],"strokeWidth":0.8},
 "encoding":{
  "x":{"field":"i0","type":"quantitative","scale":{"domain":[-0.5,387.9],"nice":false,"zero":false},"axis":null},
  "x2":{"field":"i1"},
  "y":{"field":"p","type":"quantitative","scale":{"domain":[0.99312,1.08161],"nice":false,"zero":false},"axis":{"orient":"right","title":null,"grid":false,"values":[0.9934,0.9981,1.0027,1.012,1.0167,1.0213,1.0259,1.0306,1.0352,1.0399,1.0445,1.0492,1.0538,1.0585,1.0631,1.0678,1.0724,1.0771],"format":".5f","labelFontSize":5.1,"labelFont":"Liberation Sans","labelColor":"#222","tickSize":2,"labelPadding":0.5,"tickColor":"#333","domainColor":"#333","labelOverlap":false,"labelBound":false,"labelFlush":false}},
  "color":{"field":"k","type":"nominal","scale":{"domain":["a","b"],"range":["#2d2d6e","#b4b4c4"]},"legend":null}}},
{"data":{"name":"fib"},"mark":{"type":"text","align":"right","baseline":"bottom","dy":-0.3,"fontSize":4.6,"font":"Liberation Sans"},
 "encoding":{
  "x":{"field":"i1","type":"quantitative","scale":{"domain":[-0.5,387.9],"nice":false,"zero":false},"axis":null},
  "y":{"field":"p","type":"quantitative","scale":{"domain":[0.99312,1.08161],"nice":false,"zero":false},"axis":{"orient":"right","title":null,"grid":false,"values":[0.9934,0.9981,1.0027,1.012,1.0167,1.0213,1.0259,1.0306,1.0352,1.0399,1.0445,1.0492,1.0538,1.0585,1.0631,1.0678,1.0724,1.0771],"format":".5f","labelFontSize":5.1,"labelFont":"Liberation Sans","labelColor":"#222","tickSize":2,"labelPadding":0.5,"tickColor":"#333","domainColor":"#333","labelOverlap":false,"labelBound":false,"labelFlush":false}},
  "text":{"field":"t"},
  "color":{"field":"k","type":"nominal","scale":{"domain":["a","b"],"range":["#2d2d6e","#a0a0b0"]},"legend":null}}},
{"data":{"values":[{"p":1.00834}]},"mark":{"type":"rule","color":"#c8d2dc","strokeWidth":1},
 "encoding":{"y":{"field":"p","type":"quantitative","scale":{"domain":[0.99312,1.08161],"nice":false,"zero":false},"axis":{"orient":"right","title":null,"grid":false,"values":[0.9934,0.9981,1.0027,1.012,1.0167,1.0213,1.0259,1.0306,1.0352,1.0399,1.0445,1.0492,1.0538,1.0585,1.0631,1.0678,1.0724,1.0771],"format":".5f","labelFontSize":5.1,"labelFont":"Liberation Sans","labelColor":"#222","tickSize":2,"labelPadding":0.5,"tickColor":"#333","domainColor":"#333","labelOverlap":false,"labelBound":false,"labelFlush":false}}}},
{"data":{"name":"wm"},"mark":{"type":"text","align":"center","baseline":"alphabetic","font":"Liberation Sans"},
 "encoding":{
  "x":{"field":"i","type":"quantitative","scale":{"domain":[-0.5,387.9],"nice":false,"zero":false},"axis":null},
  "y":{"field":"p","type":"quantitative","scale":{"domain":[0.99312,1.08161],"nice":false,"zero":false},"axis":{"orient":"right","title":null,"grid":false,"values":[0.9934,0.9981,1.0027,1.012,1.0167,1.0213,1.0259,1.0306,1.0352,1.0399,1.0445,1.0492,1.0538,1.0585,1.0631,1.0678,1.0724,1.0771],"format":".5f","labelFontSize":5.1,"labelFont":"Liberation Sans","labelColor":"#222","tickSize":2,"labelPadding":0.5,"tickColor":"#333","domainColor":"#333","labelOverlap":false,"labelBound":false,"labelFlush":false}},
  "size":{"field":"s","type":"nominal","scale":{"domain":["big","small"],"range":[19,13.5]},"legend":null},
  "color":{"field":"s","type":"nominal","scale":{"domain":["big","small"],"range":["#e8d8d0","#d8d8d8"]},"legend":null},
  "text":{"field":"t"}}},
{"data":{"name":"tl"},"mark":{"type":"rule"},
 "encoding":{
  "x":{"field":"i0","type":"quantitative","scale":{"domain":[-0.5,387.9],"nice":false,"zero":false},"axis":null},
  "x2":{"field":"i1"},
  "y":{"field":"p0","type":"quantitative","scale":{"domain":[0.99312,1.08161],"nice":false,"zero":false},"axis":{"orient":"right","title":null,"grid":false,"values":[0.9934,0.9981,1.0027,1.012,1.0167,1.0213,1.0259,1.0306,1.0352,1.0399,1.0445,1.0492,1.0538,1.0585,1.0631,1.0678,1.0724,1.0771],"format":".5f","labelFontSize":5.1,"labelFont":"Liberation Sans","labelColor":"#222","tickSize":2,"labelPadding":0.5,"tickColor":"#333","domainColor":"#333","labelOverlap":false,"labelBound":false,"labelFlush":false}},
  "y2":{"field":"p1"},
  "color":{"field":"k","type":"nominal","scale":{"domain":["solid","dash"],"range":["#3a3a78","#505058"]},"legend":null},
  "strokeDash":{"field":"k","type":"nominal","scale":{"domain":["solid","dash"],"range":[[1,0],[8,5]]},"legend":null}}},
{"data":{"name":"ma"},"mark":{"type":"line","color":"#808080","strokeWidth":0.8,"strokeDash":[6,3],"interpolate":"monotone"},
 "encoding":{
  "x":{"field":"i","type":"quantitative","scale":{"domain":[-0.5,387.9],"nice":false,"zero":false},"axis":null},
  "y":{"field":"p","type":"quantitative","scale":{"domain":[0.99312,1.08161],"nice":false,"zero":false},"axis":{"orient":"right","title":null,"grid":false,"values":[0.9934,0.9981,1.0027,1.012,1.0167,1.0213,1.0259,1.0306,1.0352,1.0399,1.0445,1.0492,1.0538,1.0585,1.0631,1.0678,1.0724,1.0771],"format":".5f","labelFontSize":5.1,"labelFont":"Liberation Sans","labelColor":"#222","tickSize":2,"labelPadding":0.5,"tickColor":"#333","domainColor":"#333","labelOverlap":false,"labelBound":false,"labelFlush":false}}}},
{"data":{"name":"bars"},"mark":{"type":"rule","strokeWidth":0.8},
 "encoding":{
  "x":{"field":"i","type":"quantitative","scale":{"domain":[-0.5,387.9],"nice":false,"zero":false},"axis":null},
  "y":{"field":"l","type":"quantitative","scale":{"domain":[0.99312,1.08161],"nice":false,"zero":false},"axis":{"orient":"right","title":null,"grid":false,"values":[0.9934,0.9981,1.0027,1.012,1.0167,1.0213,1.0259,1.0306,1.0352,1.0399,1.0445,1.0492,1.0538,1.0585,1.0631,1.0678,1.0724,1.0771],"format":".5f","labelFontSize":5.1,"labelFont":"Liberation Sans","labelColor":"#222","tickSize":2,"labelPadding":0.5,"tickColor":"#333","domainColor":"#333","labelOverlap":false,"labelBound":false,"labelFlush":false}},
  "y2":{"field":"h"},
  "color":{"condition":{"test":"datum.c >= datum.o","value":"#5a8cc0"},"value":"#c83a3e"}}},
{"data":{"name":"bars"},"mark":{"type":"bar","width":1.5},
 "encoding":{
  "x":{"field":"i","type":"quantitative","scale":{"domain":[-0.5,387.9],"nice":false,"zero":false},"axis":null},
  "y":{"field":"o","type":"quantitative","scale":{"domain":[0.99312,1.08161],"nice":false,"zero":false},"axis":{"orient":"right","title":null,"grid":false,"values":[0.9934,0.9981,1.0027,1.012,1.0167,1.0213,1.0259,1.0306,1.0352,1.0399,1.0445,1.0492,1.0538,1.0585,1.0631,1.0678,1.0724,1.0771],"format":".5f","labelFontSize":5.1,"labelFont":"Liberation Sans","labelColor":"#222","tickSize":2,"labelPadding":0.5,"tickColor":"#333","domainColor":"#333","labelOverlap":false,"labelBound":false,"labelFlush":false}},
  "y2":{"field":"c"},
  "color":{"condition":{"test":"datum.c >= datum.o","value":"#5a8cc0"},"value":"#c83a3e"}}},
{"data":{"name":"texts"},"mark":{"type":"text","align":"left","baseline":"middle","fontSize":5.2,"font":"Liberation Sans","color":"#111"},
 "encoding":{
  "x":{"field":"i","type":"quantitative","scale":{"domain":[-0.5,387.9],"nice":false,"zero":false},"axis":null},
  "y":{"field":"p","type":"quantitative","scale":{"domain":[0.99312,1.08161],"nice":false,"zero":false},"axis":{"orient":"right","title":null,"grid":false,"values":[0.9934,0.9981,1.0027,1.012,1.0167,1.0213,1.0259,1.0306,1.0352,1.0399,1.0445,1.0492,1.0538,1.0585,1.0631,1.0678,1.0724,1.0771],"format":".5f","labelFontSize":5.1,"labelFont":"Liberation Sans","labelColor":"#222","tickSize":2,"labelPadding":0.5,"tickColor":"#333","domainColor":"#333","labelOverlap":false,"labelBound":false,"labelFlush":false}},
  "text":{"field":"t"}}},
{"data":{"name":"bidbox"},"mark":{"type":"rect","color":"#000"},
 "encoding":{
  "x":{"field":"i0","type":"quantitative","scale":{"domain":[-0.5,387.9],"nice":false,"zero":false},"axis":null},
  "x2":{"field":"i1"},
  "y":{"field":"p0","type":"quantitative","scale":{"domain":[0.99312,1.08161],"nice":false,"zero":false},"axis":{"orient":"right","title":null,"grid":false,"values":[0.9934,0.9981,1.0027,1.012,1.0167,1.0213,1.0259,1.0306,1.0352,1.0399,1.0445,1.0492,1.0538,1.0585,1.0631,1.0678,1.0724,1.0771],"format":".5f","labelFontSize":5.1,"labelFont":"Liberation Sans","labelColor":"#222","tickSize":2,"labelPadding":0.5,"tickColor":"#333","domainColor":"#333","labelOverlap":false,"labelBound":false,"labelFlush":false}},
  "y2":{"field":"p1"}}},
{"data":{"name":"bidbox"},"mark":{"type":"text","align":"left","baseline":"middle","fontSize":5.1,"font":"Liberation Sans","color":"#fff"},
 "encoding":{
  "x":{"field":"i0","type":"quantitative","scale":{"domain":[-0.5,387.9],"nice":false,"zero":false},"axis":null},
  "y":{"field":"pm","type":"quantitative","scale":{"domain":[0.99312,1.08161],"nice":false,"zero":false},"axis":{"orient":"right","title":null,"grid":false,"values":[0.9934,0.9981,1.0027,1.012,1.0167,1.0213,1.0259,1.0306,1.0352,1.0399,1.0445,1.0492,1.0538,1.0585,1.0631,1.0678,1.0724,1.0771],"format":".5f","labelFontSize":5.1,"labelFont":"Liberation Sans","labelColor":"#222","tickSize":2,"labelPadding":0.5,"tickColor":"#333","domainColor":"#333","labelOverlap":false,"labelBound":false,"labelFlush":false}},
  "text":{"field":"t"}}}
]
},
{
"width":773,"height":44,
"layer":[
{"data":{"name":"levels"},"mark":{"type":"rule","color":"#a0a0a0","strokeDash":[1,2],"strokeWidth":0.8},
 "encoding":{
  "x":{"datum":0,"type":"quantitative","scale":{"domain":[-0.5,387.9],"nice":false,"zero":false},"axis":{"orient":"bottom","title":null,"grid":false,"values":[0,16,32,48,64,80,96,112,128,144,160,176,192,208,224,240,256,272,288,304],"labelExpr":"['9 Jun 2022','13 Jun 16:00','16 Jun 08:00','21 Jun 00:00','23 Jun 16:00','28 Jun 08:00','1 Jul 00:00','5 Jul 16:00','8 Jul 08:00','13 Jul 00:00','15 Jul 16:00','20 Jul 08:00','25 Jul 00:00','27 Jul 16:00','1 Aug 08:00','4 Aug 00:00','8 Aug 16:00','11 Aug 08:00','16 Aug 00:00','18 Aug 16:00'][round(datum.value/16)]","labelAlign":"left","labelFontSize":4.6,"labelFont":"Liberation Sans","labelColor":"#222","tickSize":2,"labelPadding":1,"tickColor":"#333","domainColor":"#333","labelOverlap":false,"labelBound":false,"labelFlush":false}},
  "x2":{"datum":387.9},
  "y":{"field":"v","type":"quantitative","scale":{"domain":[-9,104],"nice":false,"zero":false},"axis":{"orient":"right","title":null,"grid":false,"values":[0,20,80,100],"labelFontSize":5,"labelFont":"Liberation Sans","labelColor":"#222","tickSize":2,"labelPadding":0.5,"tickColor":"#333","domainColor":"#333","labelOverlap":false,"labelBound":false,"labelFlush":false}}}},
{"data":{"name":"stoch"},"mark":{"type":"line","color":"#d03a60","strokeWidth":0.8,"interpolate":"monotone"},
 "encoding":{
  "x":{"field":"i","type":"quantitative","scale":{"domain":[-0.5,387.9],"nice":false,"zero":false},"axis":{"orient":"bottom","title":null,"grid":false,"values":[0,16,32,48,64,80,96,112,128,144,160,176,192,208,224,240,256,272,288,304],"labelExpr":"['9 Jun 2022','13 Jun 16:00','16 Jun 08:00','21 Jun 00:00','23 Jun 16:00','28 Jun 08:00','1 Jul 00:00','5 Jul 16:00','8 Jul 08:00','13 Jul 00:00','15 Jul 16:00','20 Jul 08:00','25 Jul 00:00','27 Jul 16:00','1 Aug 08:00','4 Aug 00:00','8 Aug 16:00','11 Aug 08:00','16 Aug 00:00','18 Aug 16:00'][round(datum.value/16)]","labelAlign":"left","labelFontSize":4.6,"labelFont":"Liberation Sans","labelColor":"#222","tickSize":2,"labelPadding":1,"tickColor":"#333","domainColor":"#333","labelOverlap":false,"labelBound":false,"labelFlush":false}},
  "y":{"field":"d","type":"quantitative","scale":{"domain":[-9,104],"nice":false,"zero":false},"axis":{"orient":"right","title":null,"grid":false,"values":[0,20,80,100],"labelFontSize":5,"labelFont":"Liberation Sans","labelColor":"#222","tickSize":2,"labelPadding":0.5,"tickColor":"#333","domainColor":"#333","labelOverlap":false,"labelBound":false,"labelFlush":false}}}},
{"data":{"name":"stoch"},"mark":{"type":"line","color":"#1e1e50","strokeWidth":0.8,"interpolate":"monotone"},
 "encoding":{
  "x":{"field":"i","type":"quantitative","scale":{"domain":[-0.5,387.9],"nice":false,"zero":false},"axis":{"orient":"bottom","title":null,"grid":false,"values":[0,16,32,48,64,80,96,112,128,144,160,176,192,208,224,240,256,272,288,304],"labelExpr":"['9 Jun 2022','13 Jun 16:00','16 Jun 08:00','21 Jun 00:00','23 Jun 16:00','28 Jun 08:00','1 Jul 00:00','5 Jul 16:00','8 Jul 08:00','13 Jul 00:00','15 Jul 16:00','20 Jul 08:00','25 Jul 00:00','27 Jul 16:00','1 Aug 08:00','4 Aug 00:00','8 Aug 16:00','11 Aug 08:00','16 Aug 00:00','18 Aug 16:00'][round(datum.value/16)]","labelAlign":"left","labelFontSize":4.6,"labelFont":"Liberation Sans","labelColor":"#222","tickSize":2,"labelPadding":1,"tickColor":"#333","domainColor":"#333","labelOverlap":false,"labelBound":false,"labelFlush":false}},
  "y":{"field":"k","type":"quantitative","scale":{"domain":[-9,104],"nice":false,"zero":false},"axis":{"orient":"right","title":null,"grid":false,"values":[0,20,80,100],"labelFontSize":5,"labelFont":"Liberation Sans","labelColor":"#222","tickSize":2,"labelPadding":0.5,"tickColor":"#333","domainColor":"#333","labelOverlap":false,"labelBound":false,"labelFlush":false}}}},
{"data":{"name":"stxt"},"mark":{"type":"text","align":"left","baseline":"middle","fontSize":4.6,"font":"Liberation Sans","color":"#111"},
 "encoding":{
  "x":{"field":"i","type":"quantitative","scale":{"domain":[-0.5,387.9],"nice":false,"zero":false},"axis":{"orient":"bottom","title":null,"grid":false,"values":[0,16,32,48,64,80,96,112,128,144,160,176,192,208,224,240,256,272,288,304],"labelExpr":"['9 Jun 2022','13 Jun 16:00','16 Jun 08:00','21 Jun 00:00','23 Jun 16:00','28 Jun 08:00','1 Jul 00:00','5 Jul 16:00','8 Jul 08:00','13 Jul 00:00','15 Jul 16:00','20 Jul 08:00','25 Jul 00:00','27 Jul 16:00','1 Aug 08:00','4 Aug 00:00','8 Aug 16:00','11 Aug 08:00','16 Aug 00:00','18 Aug 16:00'][round(datum.value/16)]","labelAlign":"left","labelFontSize":4.6,"labelFont":"Liberation Sans","labelColor":"#222","tickSize":2,"labelPadding":1,"tickColor":"#333","domainColor":"#333","labelOverlap":false,"labelBound":false,"labelFlush":false}},
  "y":{"field":"v","type":"quantitative","scale":{"domain":[-9,104],"nice":false,"zero":false},"axis":{"orient":"right","title":null,"grid":false,"values":[0,20,80,100],"labelFontSize":5,"labelFont":"Liberation Sans","labelColor":"#222","tickSize":2,"labelPadding":0.5,"tickColor":"#333","domainColor":"#333","labelOverlap":false,"labelBound":false,"labelFlush":false}},
  "text":{"field":"t"}}}
]
}
]
}
